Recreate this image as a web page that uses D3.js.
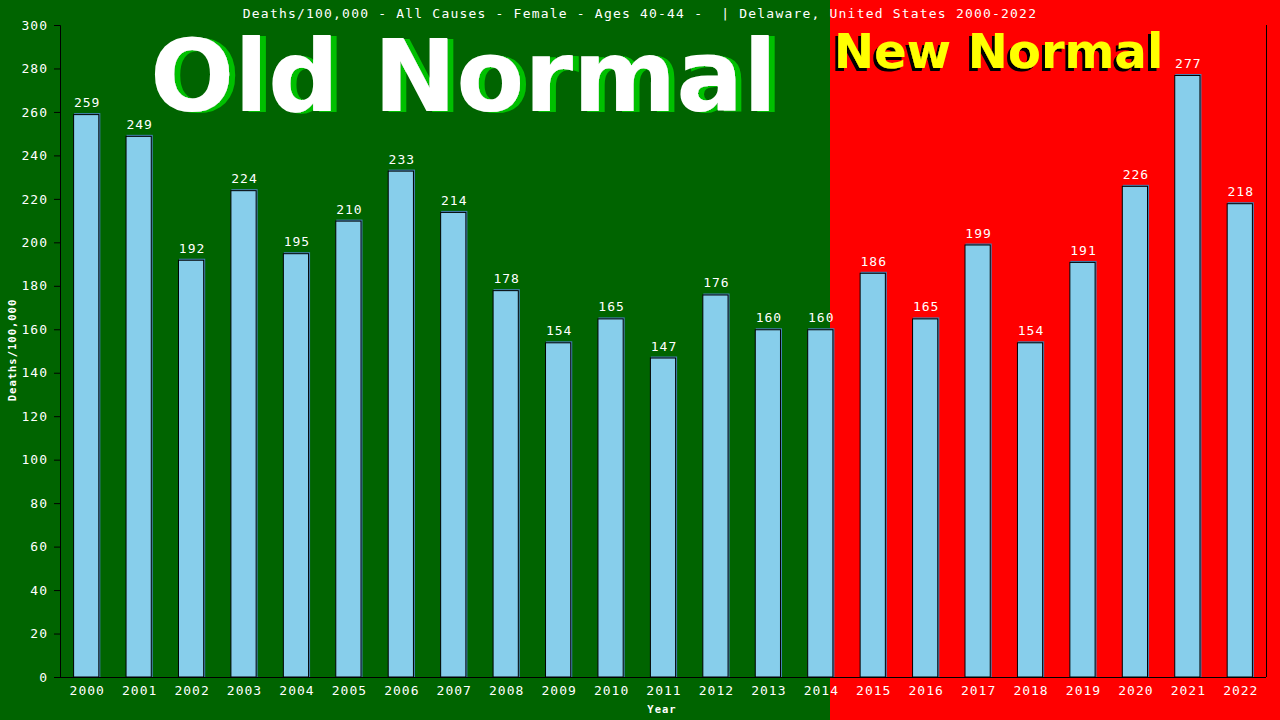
<!DOCTYPE html>
<html><head><meta charset="utf-8">
<script src="https://cdn.jsdelivr.net/npm/d3@7"></script>
<style>html,body{margin:0;padding:0;background:#006400;overflow:hidden}</style>
</head><body>
<svg id="c" width="1280" height="720"></svg>
<script>
const years = ["2000","2001","2002","2003","2004","2005","2006","2007","2008","2009","2010","2011","2012","2013","2014","2015","2016","2017","2018","2019","2020","2021","2022"];
const deaths = [259,249,192,224,195,210,233,214,178,154,165,147,176,160,160,186,165,199,154,191,226,277,218];
const yTicks = [0,20,40,60,80,100,120,140,160,180,200,220,240,260,280,300];
const titleText = "Deaths/100,000 - All Causes - Female - Ages 40-44 -  | Delaware, United States 2000-2022";
const yLabel = "Deaths/100,000";
const xLabel = "Year";

const W = 1280, H = 720;
const L = 60, R = 1266, T = 25, B = 677;
const split = 830;
const mono = "'DejaVu Sans Mono', 'Liberation Mono', monospace";
const sans = "'DejaVu Sans', Verdana, sans-serif";

const svg = d3.select("#c");
const defs = svg.append("defs");
function shadow(id, dx, dy, color){
  const f = defs.append("filter").attr("id",id).attr("x","-10%").attr("y","-20%").attr("width","120%").attr("height","140%");
  f.append("feOffset").attr("in","SourceAlpha").attr("dx",dx).attr("dy",dy).attr("result","off");
  f.append("feFlood").attr("flood-color",color).attr("result","col");
  f.append("feComposite").attr("in","col").attr("in2","off").attr("operator","in").attr("result","sh");
  const m = f.append("feMerge");
  m.append("feMergeNode").attr("in","sh");
  m.append("feMergeNode").attr("in","SourceGraphic");
}
shadow("shOld", 6, 1, "#00c000");
shadow("shNew", -3, 3, "#000000");

svg.append("rect").attr("x",0).attr("y",0).attr("width",split).attr("height",H).attr("fill","#006400");
svg.append("rect").attr("x",split).attr("y",0).attr("width",W-split).attr("height",H).attr("fill","#ff0000");

const x = d3.scaleBand().domain(years).range([L,R]).paddingInner(0.5).paddingOuter(0.25);
const y = d3.scaleLinear().domain([0,300]).range([B,T]);

// Old Normal / New Normal
svg.append("text").attr("x",150).attr("y",111).attr("font-family",sans)
  .attr("font-weight","bold").attr("font-size",99).attr("fill","#ffffff").attr("filter","url(#shOld)").text("Old Normal");
svg.append("text").attr("x",834).attr("y",68).attr("font-family",sans)
  .attr("font-weight","bold").attr("font-size",48).attr("fill","#ffff00").attr("filter","url(#shNew)").text("New Normal");

// title
svg.append("text").attr("x",640).attr("y",18).attr("text-anchor","middle")
  .attr("font-family",mono).attr("font-size",13).attr("letter-spacing","1.2px")
  .attr("fill","#fff").style("white-space","pre").text(titleText);

// bars
const bars = svg.append("g");
years.forEach((yr,i)=>{
  const bx = x(yr), bw = x.bandwidth(), by = y(deaths[i]);
  bars.append("rect").attr("x",bx+1).attr("y",by-1).attr("width",bw).attr("height",B-by+1).attr("fill","#4682b4");
  bars.append("rect").attr("x",bx+0.5).attr("y",by+0.5).attr("width",bw-1).attr("height",B-by-0.5)
    .attr("fill","#87ceeb").attr("stroke","#000").attr("stroke-width",1);
  bars.append("text").attr("x",bx+bw/2+1).attr("y",by-7).attr("text-anchor","middle")
    .attr("font-family",mono).attr("font-size",13).attr("letter-spacing","1px").attr("fill","#fff").text(deaths[i]);
});

// axes
const yAxis = svg.append("g").attr("transform",`translate(${L},0)`)
  .call(d3.axisLeft(y).tickValues(yTicks).tickSize(6).tickPadding(6).tickFormat(d3.format("d")));
yAxis.selectAll("path,line").attr("stroke","#000");
yAxis.selectAll("text").attr("fill","#fff").attr("font-family",mono).attr("font-size",13).attr("letter-spacing","1px");

const xAxis = svg.append("g").attr("transform",`translate(0,${B})`)
  .call(d3.axisBottom(x).tickSize(0).tickPadding(9));
xAxis.select(".domain").remove();
xAxis.selectAll("text").attr("fill","#fff").attr("font-family",mono).attr("font-size",13).attr("letter-spacing","1px").attr("dx","1");
svg.append("line").attr("x1",L).attr("x2",R).attr("y1",B+0.5).attr("y2",B+0.5).attr("stroke","#000");
svg.append("line").attr("x1",R+0.5).attr("x2",R+0.5).attr("y1",T).attr("y2",B).attr("stroke","#000");

// labels
svg.append("text").attr("transform","translate(16,350) rotate(-90)").attr("text-anchor","middle")
  .attr("font-family",mono).attr("font-weight","bold").attr("font-size",10.5).attr("letter-spacing","1px")
  .attr("fill","#fff").text(yLabel);
svg.append("text").attr("x",662).attr("y",713).attr("text-anchor","middle")
  .attr("font-family",mono).attr("font-weight","bold").attr("font-size",10.5).attr("letter-spacing","1px")
  .attr("fill","#fff").text(xLabel);
</script>
</body></html>
